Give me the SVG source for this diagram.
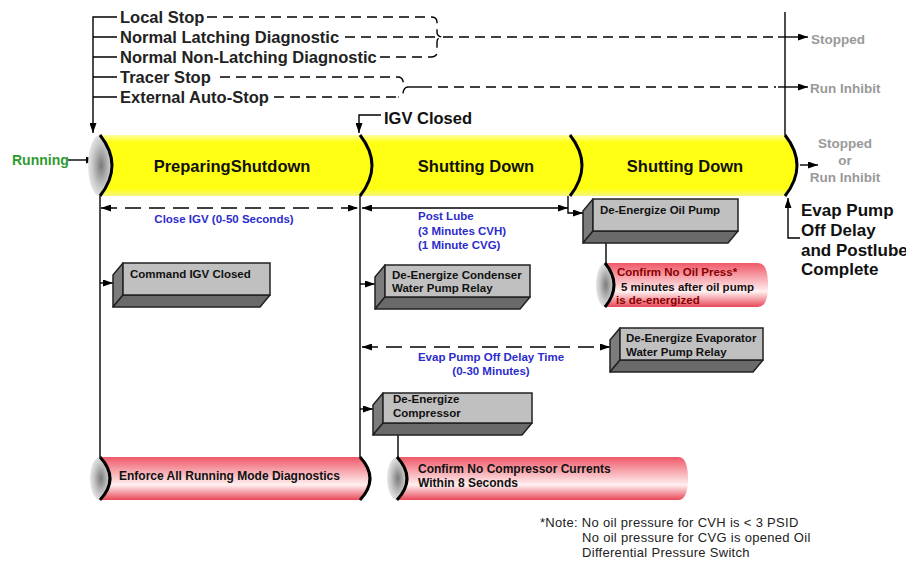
<svg xmlns="http://www.w3.org/2000/svg" width="906" height="569" viewBox="0 0 906 569">
<defs>
<linearGradient id="yel" x1="0" y1="0" x2="0" y2="1">
<stop offset="0" stop-color="#ffffa0"/><stop offset="0.12" stop-color="#ffff14"/><stop offset="0.88" stop-color="#ffff14"/><stop offset="1" stop-color="#f4f480"/>
</linearGradient>
<linearGradient id="red" x1="0" y1="0" x2="0" y2="1">
<stop offset="0" stop-color="#f05868"/><stop offset="0.3" stop-color="#f6a0a8"/><stop offset="0.65" stop-color="#fff0f0"/><stop offset="1" stop-color="#e84858"/>
</linearGradient>
<radialGradient id="cap" cx="0.55" cy="0.5" r="0.6">
<stop offset="0" stop-color="#7a7a7a"/><stop offset="0.6" stop-color="#c8c8c8"/><stop offset="1" stop-color="#f0f0f0"/>
</radialGradient>
<marker id="ah" viewBox="0 0 10 7" refX="10" refY="3.5" markerWidth="10" markerHeight="7" markerUnits="userSpaceOnUse" orient="auto-start-reverse">
<path d="M0,0 L10,3.5 L0,7 z" fill="#000"/>
</marker>
<style>
.t{font-family:"Liberation Sans",Arial,sans-serif;font-weight:bold}
.big{font-size:16.5px;fill:#111}
.lbl{font-size:16.5px;fill:#222}
.gray{font-size:13.5px;fill:#999}
.blue{font-size:11.5px;fill:#2c2ccc}
.box{font-size:11.5px;fill:#111}
.note{font-family:"Liberation Sans",Arial,sans-serif;font-size:13px;letter-spacing:0.3px;fill:#222}
.ln{fill:none;stroke:#000;stroke-width:1.4}
.dsh{fill:none;stroke:#000;stroke-width:1.4;stroke-dasharray:10 6}
.dshl{fill:none;stroke:#000;stroke-width:1.4;stroke-dasharray:16 8}
.arc{fill:none;stroke:#000;stroke-width:3}
.front{fill:#c0c0c0;stroke:#222;stroke-width:1.5}
.side{fill:#7c7c7c;stroke:#222;stroke-width:1.5;stroke-linejoin:round}
.bot{fill:#6a6a6a;stroke:#222;stroke-width:1.5;stroke-linejoin:round}
</style>
</defs>
<rect width="906" height="569" fill="#fff"/>

<g id="connectors">
<path class="ln" d="M117,17 L93,17 L93,133" marker-end="url(#ah)"/>
<path class="ln" d="M93,37 H117 M93,57 H117 M93,77 H117 M93,97 H117"/>
<path class="dsh" d="M207,17 H431 Q437,17 437,22 V32 Q437,37 443,37 Q437,37 437,42 V52 Q437,57 431,57"/>
<path class="dsh" d="M380,57 H431"/>
<path class="dsh" d="M345,37 H437"/>
<path class="dsh" d="M443,37 H776"/>
<path class="ln" d="M778,37 H808" marker-end="url(#ah)"/>
<path class="dsh" d="M220,77 H398 Q402,77 403,81 Q404,87 408,87 Q404,87 403,93 Q402,97 398,97"/>
<path class="dsh" d="M274,97 H398"/>
<path class="ln" d="M408,87 H432"/>
<path class="dsh" d="M438,87 H776"/>
<path class="ln" d="M778,87 H808" marker-end="url(#ah)"/>
<path class="ln" d="M785,12 V135"/>
<path class="ln" d="M68,160 H96" marker-end="url(#ah)"/>
<path class="ln" d="M381,115 H359 V133" marker-end="url(#ah)"/>
<path class="ln" d="M800,165 H818" marker-end="url(#ah)"/>
<path class="ln" d="M800,238 H788 V198" marker-end="url(#ah)"/>
<path class="ln" d="M100,196 V457"/>
<path class="ln" d="M360,196 V457"/>
<path class="dshl" d="M101,208 H358" marker-start="url(#ah)" marker-end="url(#ah)"/>
<path class="ln" d="M362,208 H568" marker-start="url(#ah)" marker-end="url(#ah)"/>
<path class="ln" d="M568,196 V213 H583" marker-end="url(#ah)"/>
<path class="ln" d="M100,283 H113" marker-end="url(#ah)"/>
<path class="ln" d="M360,284 H375" marker-end="url(#ah)"/>
<path class="dshl" d="M362,347 H610" marker-start="url(#ah)" marker-end="url(#ah)"/>
<path class="ln" d="M360,409 H373" marker-end="url(#ah)"/>
<path class="ln" d="M606,243 V263"/>
<path class="ln" d="M398,435 V457"/>
</g>

<g id="labels-top">
<text class="t lbl" x="120" y="23">Local Stop</text>
<text class="t lbl" x="120" y="43">Normal Latching Diagnostic</text>
<text class="t lbl" x="120" y="63">Normal Non-Latching Diagnostic</text>
<text class="t lbl" x="120" y="83">Tracer Stop</text>
<text class="t lbl" x="120" y="103">External Auto-Stop</text>
<text class="t gray" x="811" y="44">Stopped</text>
<text class="t gray" x="810" y="93">Run Inhibit</text>
<text class="t big" x="384" y="124">IGV Closed</text>
</g>

<g id="running">
<text class="t" x="12" y="165" style="font-size:14px;fill:#2f9a2f">Running</text>
</g>

<g id="main-pipe">
<ellipse cx="100" cy="165.5" rx="12" ry="30.5" fill="url(#cap)"/>
<path d="M100,135 H785 Q809,165.5 785,196 H100 Q124,165.5 100,135 Z" fill="url(#yel)"/>
<path class="arc" d="M100,135 Q124,165.5 100,196"/>
<path class="arc" d="M360,135 Q384,165.5 360,196"/>
<path class="arc" d="M570,135 Q594,165.5 570,196"/>
<path class="arc" d="M785,135 Q809,165.5 785,196"/>
<text class="t big" x="232" y="172" text-anchor="middle">PreparingShutdown</text>
<text class="t big" x="476" y="172" text-anchor="middle">Shutting Down</text>
<text class="t big" x="685" y="172" text-anchor="middle">Shutting Down</text>
</g>

<g id="result">
<text class="t gray" x="845" y="148" text-anchor="middle">Stopped</text>
<text class="t gray" x="845" y="165" text-anchor="middle">or</text>
<text class="t gray" x="845" y="182" text-anchor="middle">Run Inhibit</text>
</g>

<g id="evap-complete">
<text class="t" x="801" y="216" style="font-size:17px;fill:#111">Evap Pump</text>
<text class="t" x="801" y="236" style="font-size:17px;fill:#111">Off Delay</text>
<text class="t" x="801" y="256" style="font-size:17px;fill:#111">and Postlube</text>
<text class="t" x="801" y="275" style="font-size:17px;fill:#111">Complete</text>
</g>

<g id="close-igv-label">
<text class="t blue" x="224" y="223" text-anchor="middle">Close IGV (0-50 Seconds)</text>
</g>
<g id="post-lube-label">
<text class="t blue" x="418" y="220">Post Lube</text>
<text class="t blue" x="418" y="235">(3 Minutes CVH)</text>
<text class="t blue" x="418" y="249">(1 Minute CVG)</text>
</g>
<g id="evap-delay-label">
<text class="t blue" x="491" y="361" text-anchor="middle">Evap Pump Off Delay Time</text>
<text class="t blue" x="491" y="375" text-anchor="middle">(0-30 Minutes)</text>
</g>

<g id="command-igv">
<path class="side" d="M123,263 L113,275 L113,307 L123,295 Z"/>
<path class="bot" d="M123,295 L270,295 L260,307 L113,307 Z"/>
<rect class="front" x="123" y="263" width="147" height="32"/>
<text class="t box" x="130" y="278">Command IGV Closed</text>
</g>

<g id="condenser">
<path class="side" d="M385,265 L375,277 L375,309 L385,297 Z"/>
<path class="bot" d="M385,297 L530,297 L520,309 L375,309 Z"/>
<rect class="front" x="385" y="265" width="145" height="32"/>
<text class="t box" x="392" y="279">De-Energize Condenser</text>
<text class="t box" x="392" y="292">Water Pump Relay</text>
</g>

<g id="oil-pump">
<path class="side" d="M593,199 L583,211 L583,243 L593,231 Z"/>
<path class="bot" d="M593,231 L738,231 L728,243 L583,243 Z"/>
<rect class="front" x="593" y="199" width="145" height="32"/>
<text class="t box" x="600" y="214">De-Energize Oil Pump</text>
</g>

<g id="oil-press">
<ellipse cx="605" cy="285" rx="9" ry="22" fill="url(#cap)"/>
<path d="M605,263 H758 Q768,263 768,285 Q768,307 758,307 H605 Q623,285 605,263 Z" fill="url(#red)"/>
<path class="arc" d="M605,263 Q623,285 605,307"/>
<text class="t box" x="617" y="276" style="fill:#8a0000">Confirm No Oil Press*</text>
<text class="t box" x="621" y="291">5 minutes after oil pump</text>
<text class="t box" x="616" y="304" style="fill:#8a0000">is de-energized</text>
</g>

<g id="evaporator">
<path class="side" d="M620,328 L610,340 L610,372 L620,360 Z"/>
<path class="bot" d="M620,360 L763,360 L753,372 L610,372 Z"/>
<rect class="front" x="620" y="328" width="143" height="32"/>
<text class="t box" x="626" y="342">De-Energize Evaporator</text>
<text class="t box" x="626" y="356">Water Pump Relay</text>
</g>

<g id="compressor">
<path class="side" d="M383,393 L373,405 L373,435 L383,423 Z"/>
<path class="bot" d="M383,423 L532,423 L522,435 L373,435 Z"/>
<rect class="front" x="383" y="393" width="149" height="30"/>
<text class="t box" x="393" y="403">De-Energize</text>
<text class="t box" x="393" y="417">Compressor</text>
</g>

<g id="enforce">
<ellipse cx="100" cy="478.5" rx="10" ry="21.5" fill="url(#cap)"/>
<path d="M100,457 H360 Q380,478.5 360,500 H100 Q120,478.5 100,457 Z" fill="url(#red)"/>
<path class="arc" d="M100,457 Q120,478.5 100,500"/>
<path class="arc" d="M360,457 Q380,478.5 360,500"/>
<text class="t" x="119" y="480" style="font-size:12px;fill:#111">Enforce All Running Mode Diagnostics</text>
</g>

<g id="compressor-currents">
<ellipse cx="397" cy="478.5" rx="10" ry="21.5" fill="url(#cap)"/>
<path d="M397,457 H678 Q688,457 688,478.5 Q688,500 678,500 H397 Q417,478.5 397,457 Z" fill="url(#red)"/>
<path class="arc" d="M397,457 Q417,478.5 397,500"/>
<text class="t" x="418" y="473" style="font-size:12px;fill:#111">Confirm No Compressor Currents</text>
<text class="t" x="418" y="487" style="font-size:12px;fill:#111">Within 8 Seconds</text>
</g>

<g id="note">
<text class="note" x="540" y="527">*Note: No oil pressure for CVH is &lt; 3 PSID</text>
<text class="note" x="582" y="542">No oil pressure for CVG is opened Oil</text>
<text class="note" x="582" y="557">Differential Pressure Switch</text>
</g>
</svg>
